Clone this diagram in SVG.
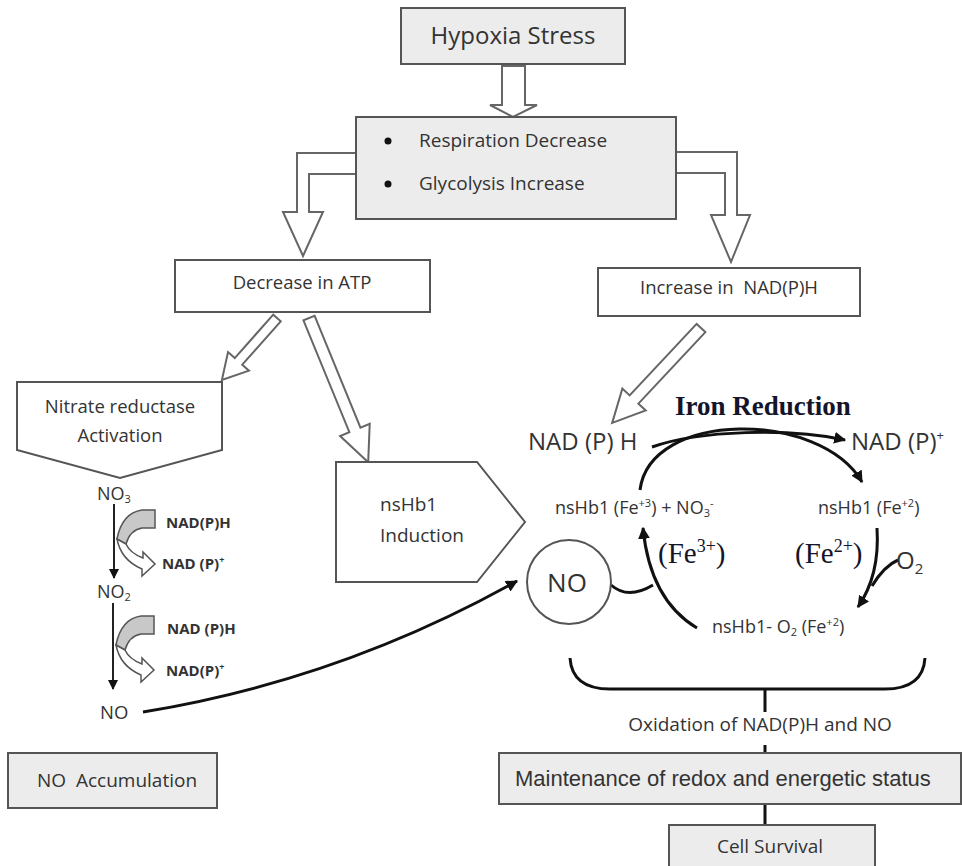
<svg xmlns="http://www.w3.org/2000/svg" width="962" height="866" viewBox="0 0 962 866">
<defs>
<style>
.box{fill:#ececec;stroke:#555;stroke-width:2}
.wbox{fill:#fff;stroke:#555;stroke-width:2}
.hollow{fill:#fff;stroke:#666;stroke-width:2;stroke-linejoin:miter}
.t{font-family:"Open Sans","Noto Sans","DejaVu Sans",sans-serif;fill:#333}
.a{font-family:"Liberation Sans",Arial,sans-serif;fill:#333}
.s{font-family:"Liberation Serif","Times New Roman",serif;fill:#14142a}
.ln{fill:none;stroke:#111;stroke-width:3}
.thin{fill:none;stroke:#222;stroke-width:2}
.gray{fill:#c8c8c8;stroke:#555;stroke-width:1.5}
.warr{fill:#fff;stroke:#555;stroke-width:1.5}
.b{font-weight:bold}
</style>
<marker id="ah" viewBox="0 0 10 10" refX="9" refY="5" markerWidth="4" markerHeight="4" orient="auto" markerUnits="strokeWidth">
<path d="M0,0 L10,5 L0,10 Z" fill="#111"/>
</marker>
<marker id="ah2" viewBox="0 0 10 10" refX="9" refY="5" markerWidth="5" markerHeight="5" orient="auto" markerUnits="strokeWidth">
<path d="M0,0 L10,5 L0,10 Z" fill="#111"/>
</marker>
</defs>

<g id="connectors">
<!-- Hypoxia -> Respiration -->
<polygon class="hollow" points="502,66 525,66 525,105 537,105 513,117 490,105 502,105"/>
<!-- Respiration -> Decrease ATP -->
<polygon class="hollow" points="356,153 297,153 297,212 283,212 303,256 323,212 309,212 309,174 356,174"/>
<!-- Respiration -> Increase NAD(P)H -->
<polygon class="hollow" points="676,152 737,152 737,215 750,215 731,262 711,215 725,215 725,173 676,173"/>
<!-- Decrease ATP -> Nitrate reductase -->
<polygon class="hollow" transform="translate(277,318) rotate(131.6)" points="0,-5 58,-5 58,-14 83,0 58,14 58,5 0,5"/>
<!-- Decrease ATP -> nsHb1 -->
<polygon class="hollow" transform="translate(309,318) rotate(67.7)" points="0,-6 121,-6 121,-16 156,0 121,16 121,6 0,6"/>
<!-- Increase NAD(P)H -> NAD(P)H -->
<polygon class="hollow" transform="translate(701,328) rotate(133.1)" points="0,-6 98,-6 98,-16 130,0 98,16 98,6 0,6"/>

<!-- NO3 -> NO2 -> NO -->
<line class="thin" x1="114" y1="504" x2="114" y2="578" marker-end="url(#ah2)"/>
<line class="thin" x1="113" y1="603" x2="113" y2="689" marker-end="url(#ah2)"/>
<g id="cofactor1">
<path class="gray" d="M155,510 L142,510 Q122,513 117,539 L126,544 Q130,530 142,528 L155,528 Z"/>
<path class="warr" d="M117,539 Q121,560 142,569 L142,576 L155,564 L143,552 L143,558 Q130,553 126,544 Z"/>
</g>
<g id="cofactor2" transform="translate(-1,106)">
<path class="gray" d="M155,510 L142,510 Q122,513 117,539 L126,544 Q130,530 142,528 L155,528 Z"/>
<path class="warr" d="M117,539 Q121,560 142,569 L142,576 L155,564 L143,552 L143,558 Q130,553 126,544 Z"/>
</g>
<!-- NO -> NO circle -->
<path class="ln" d="M143,712 Q340,680 517,581" marker-end="url(#ah)"/>

<!-- cycle -->
<path class="ln" d="M652,447 C700,430 790,428 845,440" marker-end="url(#ah)"/>
<path class="ln" d="M640,490 C650,410 820,410 862,482" marker-end="url(#ah)"/>
<path class="ln" d="M877,528 Q880,575 858,607" marker-end="url(#ah)"/>
<path class="ln" d="M898,560 Q884,566 872,586"/>
<path class="ln" d="M697,628 Q650,600 643,528" marker-end="url(#ah)"/>
<path class="ln" d="M611,585 Q628,600 653,585"/>

<!-- bracket -->
<path class="ln" d="M570,658 Q572,689 610,689 L885,689 Q923,689 925,658"/>
<line class="ln" x1="765" y1="689" x2="765" y2="712"/>
<line class="ln" x1="765" y1="745" x2="765" y2="753"/>
<line class="ln" x1="765" y1="804" x2="765" y2="825"/>
</g>

<g id="hypoxia">
<rect class="box" x="401" y="8" width="224" height="56"/>
<text class="t" x="513" y="44" font-size="24" text-anchor="middle">Hypoxia Stress</text>
</g>

<g id="respiration">
<rect class="box" x="356" y="117" width="320" height="102"/>
<circle cx="388" cy="141" r="3.5" fill="#111"/>
<circle cx="388" cy="184" r="3.5" fill="#111"/>
<text class="t" x="419" y="147" font-size="19">Respiration Decrease</text>
<text class="t" x="419" y="190" font-size="19">Glycolysis Increase</text>
</g>

<g id="decrease-atp">
<rect class="wbox" x="175" y="260" width="255" height="52"/>
<text class="t" x="302" y="289" font-size="18.5" text-anchor="middle">Decrease in ATP</text>
</g>

<g id="increase-nadph">
<rect class="wbox" x="598" y="268" width="262" height="48"/>
<text class="t" x="640" y="294" font-size="18.5" xml:space="preserve">Increase in  NAD(P)H</text>
</g>

<g id="nitrate-reductase">
<polygon class="wbox" points="17,382 222,382 222,450 120,478 17,450"/>
<text class="t" x="120" y="413" font-size="18.5" text-anchor="middle">Nitrate reductase</text>
<text class="t" x="120" y="442" font-size="18.5" text-anchor="middle">Activation</text>
</g>

<g id="no3">
<text class="t" x="97" y="500" font-size="18">NO<tspan font-size="11" dy="3">3</tspan></text>
<text class="t b" x="166" y="528" font-size="15">NAD(P)H</text>
<text class="t b" x="162" y="569" font-size="15">NAD (P)<tspan font-size="9" dy="-6">+</tspan></text>
</g>

<g id="no2">
<text class="t" x="97" y="598" font-size="18">NO<tspan font-size="11" dy="3">2</tspan></text>
<text class="t b" x="167" y="634" font-size="15">NAD (P)H</text>
<text class="t b" x="166" y="676" font-size="15">NAD(P)<tspan font-size="9" dy="-6">+</tspan></text>
</g>

<g id="no-left">
<text class="t" x="100" y="719" font-size="18.5">NO</text>
</g>

<g id="no-accumulation">
<rect class="box" x="8" y="753" width="209" height="55"/>
<text class="t" x="37" y="787" font-size="19" xml:space="preserve">NO  Accumulation</text>
</g>

<g id="nshb1-induction">
<polygon class="wbox" points="336,462 477,462 525,522 477,582 336,582"/>
<text class="t" x="380" y="511" font-size="19">nsHb1</text>
<text class="t" x="380" y="542" font-size="19">Induction</text>
</g>

<g id="no-circle">
<circle cx="569" cy="582" r="42" fill="#fff" stroke="#555" stroke-width="2"/>
<text class="t" x="567" y="592" font-size="26" text-anchor="middle">NO</text>
</g>

<g id="iron-reduction">
<text class="s" x="675" y="415" font-size="27" font-weight="bold" fill="#111">Iron Reduction</text>
</g>

<g id="nadph-right">
<text class="t" x="528" y="450" font-size="24">NAD (P) H</text>
</g>

<g id="nadp-right">
<text class="t" x="851" y="450" font-size="24">NAD (P)<tspan font-size="13" dy="-10">+</tspan></text>
</g>

<g id="fe3">
<text class="t" x="555" y="514" font-size="18">nsHb1 (Fe<tspan font-size="11" dy="-7">+3</tspan><tspan dy="7">) + NO</tspan><tspan font-size="11" dy="3">3</tspan><tspan font-size="11" dy="-10">-</tspan></text>
<text class="s" x="658" y="563" font-size="29">(Fe<tspan font-size="18" dy="-11">3+</tspan><tspan dy="11">)</tspan></text>
</g>

<g id="fe2">
<text class="t" x="818" y="514" font-size="18">nsHb1 (Fe<tspan font-size="11" dy="-7">+2</tspan><tspan dy="7">)</tspan></text>
<text class="s" x="795" y="563" font-size="29">(Fe<tspan font-size="18" dy="-11">2+</tspan><tspan dy="11">)</tspan></text>
</g>

<g id="o2">
<text class="t" x="896" y="569" font-size="24">O<tspan font-size="15" dy="5">2</tspan></text>
</g>

<g id="nshb1-o2">
<text class="t" x="712" y="633" font-size="18">nsHb1- O<tspan font-size="11" dy="3">2</tspan><tspan dy="-3"> (Fe</tspan><tspan font-size="11" dy="-7">+2</tspan><tspan dy="7">)</tspan></text>
</g>

<g id="oxidation">
<text class="t" x="760" y="731" font-size="19" text-anchor="middle">Oxidation of NAD(P)H and NO</text>
</g>

<g id="maintenance">
<rect class="box" x="499" y="753" width="462" height="51"/>
<text class="a" x="515" y="786" font-size="22">Maintenance of redox and energetic status</text>
</g>

<g id="cell-survival">
<rect class="box" x="669" y="825" width="206" height="42"/>
<text class="t" x="770" y="853" font-size="19" text-anchor="middle">Cell Survival</text>
</g>
</svg>
